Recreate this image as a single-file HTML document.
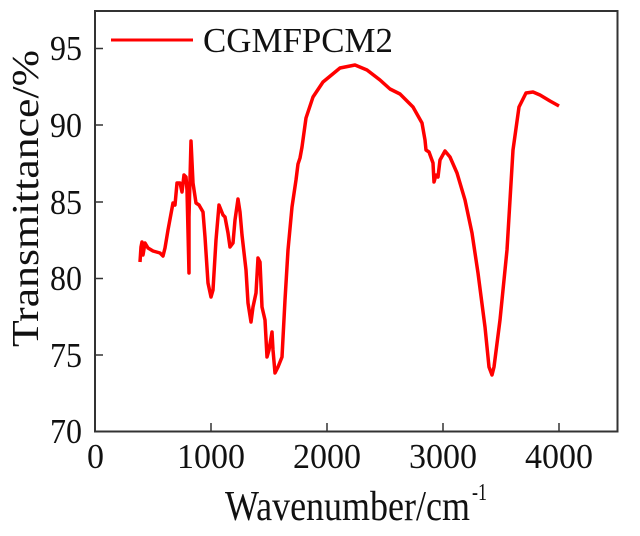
<!DOCTYPE html>
<html><head><meta charset="utf-8"><style>body{margin:0;background:#fff}svg{display:block}text{font-family:"Liberation Serif","DejaVu Serif","Times New Roman",serif;fill:#111}</style></head>
<body>
<svg width="640" height="536" viewBox="0 0 640 536">
<rect x="95" y="11" width="522.5" height="420.5" fill="none" stroke="#333" stroke-width="2"/>
<g stroke="#333" stroke-width="1.5">
<line x1="211" y1="431" x2="211" y2="423"/><line x1="327" y1="431" x2="327" y2="423"/><line x1="443" y1="431" x2="443" y2="423"/><line x1="559" y1="431" x2="559" y2="423"/>
<line x1="95" y1="48.5" x2="103" y2="48.5"/><line x1="95" y1="125" x2="103" y2="125"/><line x1="95" y1="202" x2="103" y2="202"/><line x1="95" y1="278.5" x2="103" y2="278.5"/><line x1="95" y1="355" x2="103" y2="355"/>
</g>
<g font-size="35">
<text x="50" y="60" textLength="32" lengthAdjust="spacingAndGlyphs">95</text>
<text x="50" y="137" textLength="32" lengthAdjust="spacingAndGlyphs">90</text>
<text x="50" y="214" textLength="32" lengthAdjust="spacingAndGlyphs">85</text>
<text x="50" y="290" textLength="32" lengthAdjust="spacingAndGlyphs">80</text>
<text x="50" y="367" textLength="32" lengthAdjust="spacingAndGlyphs">75</text>
<text x="50" y="443" textLength="32" lengthAdjust="spacingAndGlyphs">70</text>
</g>
<g font-size="35">
<text x="87" y="468" textLength="17" lengthAdjust="spacingAndGlyphs">0</text>
<text x="177" y="468" textLength="68" lengthAdjust="spacingAndGlyphs">1000</text>
<text x="293" y="468" textLength="68" lengthAdjust="spacingAndGlyphs">2000</text>
<text x="409" y="468" textLength="68" lengthAdjust="spacingAndGlyphs">3000</text>
<text x="525" y="468" textLength="68" lengthAdjust="spacingAndGlyphs">4000</text>
</g>
<text x="225" y="520" font-size="42" textLength="245" lengthAdjust="spacingAndGlyphs">Wavenumber/cm</text>
<text x="472" y="500" font-size="24" textLength="15" lengthAdjust="spacingAndGlyphs">-1</text>
<text transform="translate(38,347) rotate(-90)" font-size="38" textLength="297" lengthAdjust="spacingAndGlyphs">Transmittance/%</text>
<line x1="111" y1="40" x2="193" y2="40" stroke="#f00" stroke-width="3"/>
<text x="203" y="52" font-size="35" textLength="190" lengthAdjust="spacingAndGlyphs">CGMFPCM2</text>
<polyline fill="none" stroke="#f00" stroke-width="3.5" stroke-linejoin="round" points="140,262 141,247 142,242 143,255 145,243 148,248 153,251 160,253 163,256 165,248 168,230 173,203 175,205 177,183 180,183 182,192 184,175 186,177 187,190 189,273 189,217 191,141 193,183 196,203 199,205 203,212 205,237 208,283 211,297 213,290 216,240 219,205 223,215 225,217 228,233 230,247 233,243 235,220 238,199 240,212 242,235 246,270 248,303 251,322 253,307 256,293 258,258 260,262 262,307 265,320 267,357 269,350 272,332 273,350 275,373 278,367 282,357 285,300 288,250 292,207 296,180 298,164 300,158 302,147 306,118 313,97 323,82 340,68 355,65 367,70 380,80 390,89 400,94 413,107 422,123 425,140 426,150 429,152 433,163 434,182 436,175 438,177 440,160 445,151 450,157 457,173 465,200 472,233 478,273 485,327 489,367 492,375 494,367 500,320 507,250 513,150 519,107 526,93 533,92 540,95 550,101 559,106"/>
</svg>
</body></html>
